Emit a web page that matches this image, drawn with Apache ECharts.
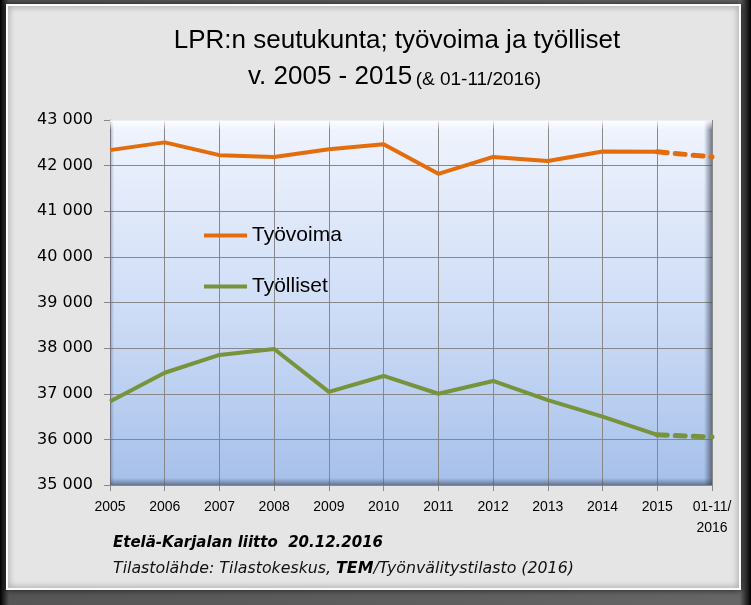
<!DOCTYPE html>
<html><head><meta charset="utf-8">
<script src="https://cdn.jsdelivr.net/npm/echarts@6/dist/echarts.min.js"></script>
<style>html,body{margin:0;padding:0;background:#000}#c{width:751px;height:605px}</style>
</head><body><div id="c"></div>
<script>
const categories = ['2005','2006','2007','2008','2009','2010','2011','2012','2013','2014','2015','01-11/\n2016'];
const tyovoima = [42340, 42510, 42230, 42190, 42360, 42470, 41820, 42190, 42100, 42310, 42305, 42190];
const tyolliset = [36830, 37460, 37850, 37980, 37040, 37390, 37000, 37280, 36860, 36500, 36100, 36050];
const yTicks = {min: 35000, max: 43000, step: 1000};

const nSolid = 11;
const solidPart = arr => arr.map((v, i) => i < nSolid ? v : null);
const dashPart = arr => arr.map((v, i) => i >= nSolid - 1 ? v : null);

const chart = echarts.init(document.getElementById('c'), null, {renderer: 'canvas'});
const fmt = v => String(v).replace(/\B(?=(\d{3})+(?!\d))/g, ' ');

const PL = 110, PR = 712, PT = 120, PB = 485;

chart.setOption({
  backgroundColor: '#111',
  animation: false,
  graphic: [
    {type: 'rect', z: -10, shape: {x: 0, y: 0, width: 751, height: 605},
     style: {fill: new echarts.graphic.LinearGradient(0, 0, 1, 0, [
       {offset: 0, color: '#000'}, {offset: 0.012, color: '#555'}, {offset: 0.985, color: '#666'}, {offset: 1, color: '#000'}])}},
    {type: 'rect', z: -9, shape: {x: 7, y: 5, width: 733, height: 584},
     style: {fill: '#e5e5e5', stroke: '#fafafa', lineWidth: 2, shadowBlur: 6, shadowColor: 'rgba(0,0,0,0.6)'}},
    // plot bevel decoration
    {type: 'rect', z: 1, silent: true, shape: {x: PR - 8, y: PT, width: 8, height: PB - PT},
     style: {fill: new echarts.graphic.LinearGradient(0, 0, 1, 0, [
       {offset: 0, color: 'rgba(60,70,90,0)'}, {offset: 1, color: 'rgba(60,70,90,0.7)'}])}},
    {type: 'rect', z: 1, silent: true, shape: {x: PL, y: PB - 7, width: PR - PL, height: 7},
     style: {fill: new echarts.graphic.LinearGradient(0, 0, 0, 1, [
       {offset: 0, color: 'rgba(60,70,90,0)'}, {offset: 1, color: 'rgba(60,70,90,0.6)'}])}},
    {type: 'rect', z: 1, silent: true, shape: {x: PL, y: PT, width: 4, height: PB - PT},
     style: {fill: new echarts.graphic.LinearGradient(0, 0, 1, 0, [
       {offset: 0, color: 'rgba(80,90,120,0.45)'}, {offset: 1, color: 'rgba(80,90,120,0)'}])}},
    {type: 'rect', z: 1, silent: true, shape: {x: PL, y: PT, width: PR - PL, height: 10},
     style: {fill: new echarts.graphic.LinearGradient(0, 0, 0, 1, [
       {offset: 0, color: 'rgba(255,255,255,0.9)'}, {offset: 1, color: 'rgba(255,255,255,0)'}])}},
    {type: 'text', x: 397, y: 28, style: {
      text: 'LPR:n seutukunta; työvoima ja työlliset', align: 'center',
      font: '26px "Liberation Sans"', fill: '#000'}},
    {type: 'text', x: 248, y: 64, style: {
      text: '{a|v. 2005 - 2015} {b|(& 01-11/2016)}',
      rich: {a: {font: '26px "Liberation Sans"', fill: '#000'}, b: {font: '19px "Liberation Sans"', fill: '#000', padding: [6, 0, 0, 0]}}}},
    {type: 'text', x: 113, y: 536, style: {
      text: 'Etelä-Karjalan liitto  20.12.2016',
      font: 'italic bold 15px "DejaVu Sans"', fill: '#000'}},
    {type: 'text', x: 113, y: 561, style: {
      text: '{n|Tilastolähde: Tilastokeskus, }{b|TEM}{n|/Työnvälitystilasto (2016)}',
      rich: {n: {font: 'italic 15.8px "DejaVu Sans"', fill: '#111'}, b: {font: 'italic bold 15.8px "DejaVu Sans"', fill: '#000'}}}}
  ],
  grid: {left: PL, right: 751 - PR, top: PT, bottom: 605 - PB, show: true, borderWidth: 0,
    backgroundColor: new echarts.graphic.LinearGradient(0, 0, 0, 1, [
      {offset: 0, color: '#f0f4fd'}, {offset: 0.5, color: '#d0def7'}, {offset: 1, color: '#a6c0ea'}])},
  xAxis: {type: 'category', data: categories, boundaryGap: false,
    axisLine: {lineStyle: {color: '#888', width: 1}},
    axisTick: {show: true, length: 6, interval: 0, lineStyle: {color: '#888'}},
    splitLine: {show: true, interval: 0, lineStyle: {color: '#888', width: 1}},
    axisLabel: {interval: 0, color: '#000', fontFamily: 'Liberation Sans', fontSize: 14, margin: 12, lineHeight: 21}},
  yAxis: {type: 'value', min: yTicks.min, max: yTicks.max, interval: yTicks.step,
    axisLine: {show: true, lineStyle: {color: '#888'}},
    axisTick: {show: true, length: 6, lineStyle: {color: '#888'}},
    splitLine: {show: true, lineStyle: {color: '#888', width: 1}},
    axisLabel: {formatter: fmt, color: '#000', fontFamily: 'DejaVu Sans', fontSize: 16, margin: 17}},
  legend: {orient: 'vertical', left: 199, top: 220, itemGap: 30, itemWidth: 43, itemHeight: 4,
    icon: 'rect',
    data: ['Työvoima', 'Työlliset'],
    textStyle: {fontFamily: 'Liberation Sans', fontSize: 21, color: '#000'}},
  series: [
    {name: 'Työvoima', type: 'line', data: solidPart(tyovoima), symbol: 'none', z: 3, lineStyle: {color: '#e46c0a', width: 4}, itemStyle: {color: '#e46c0a'}},
    {name: 'Työvoima2', type: 'line', data: dashPart(tyovoima), symbol: 'none', z: 3, lineStyle: {color: '#e46c0a', width: 5, type: [10, 8], cap: 'round'}},
    {name: 'Työlliset', type: 'line', data: solidPart(tyolliset), symbol: 'none', z: 3, lineStyle: {color: '#77933c', width: 4}, itemStyle: {color: '#77933c'}},
    {name: 'Työlliset2', type: 'line', data: dashPart(tyolliset), symbol: 'none', z: 3, lineStyle: {color: '#77933c', width: 5, type: [10, 8], cap: 'round'}}
  ]
});
</script></body></html>
